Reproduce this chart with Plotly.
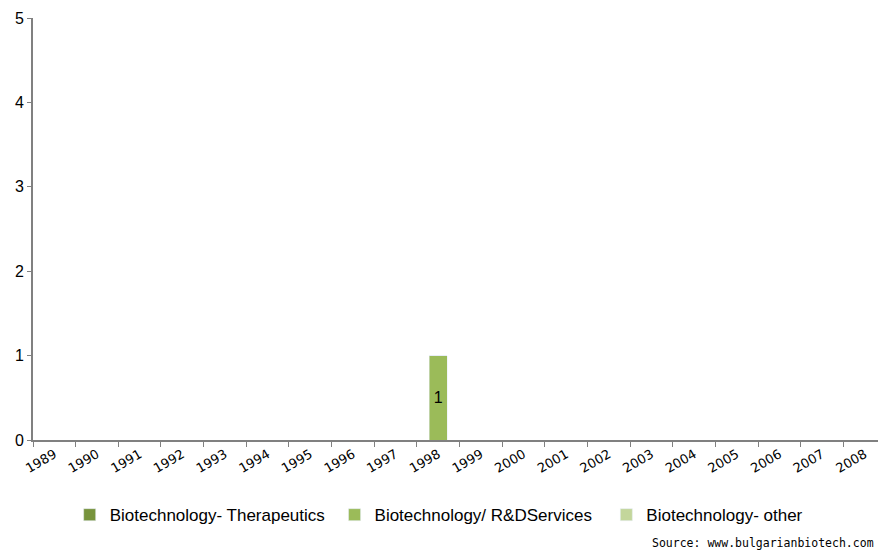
import plotly.graph_objects as go

years = [str(y) for y in range(1989, 2009)]
therapeutics = [0] * 20
rd_services = [0, 0, 0, 0, 0, 0, 0, 0, 0, 1, 0, 0, 0, 0, 0, 0, 0, 0, 0, 0]
other = [0] * 20

pad = "\u00a0"
series = [
    ("Biotechnology- Therapeutics" + pad, therapeutics, "#77933C"),
    ("Biotechnology/ R&DServices" + pad * 2, rd_services, "#9BBB59"),
    ("Biotechnology- other", other, "#C3D69B"),
]

fig = go.Figure()
for name, vals, col in series:
    fig.add_trace(go.Bar(
        x=years, y=vals, name=name, marker_color=col, width=0.43,
        text=[str(v) if v else "" for v in vals], textposition="inside",
        insidetextanchor="middle",
        textfont=dict(color="black", size=16, family="Liberation Sans"),
    ))

fig.update_layout(
    width=886, height=550,
    margin=dict(l=33, r=0, t=18, b=110, autoexpand=False),
    barmode="stack",
    plot_bgcolor="white", paper_bgcolor="white",
    font=dict(family="Liberation Sans", color="black"),
    showlegend=True,
    legend=dict(orientation="h", x=0.043, xanchor="left", y=-0.178, yanchor="middle",
                font=dict(size=17, family="Liberation Sans"), itemwidth=30,
                traceorder="normal"),
    xaxis=dict(type="category", tickson="boundaries", ticks="outside", ticklen=5,
               tickcolor="#808080", showline=True, linecolor="#808080", linewidth=2,
               tickangle=-30, tickfont=dict(size=13, family="DejaVu Sans"),
               showgrid=False, automargin=False),
    yaxis=dict(range=[0, 5], dtick=1, ticks="outside", ticklen=4, tickcolor="#808080",
               showline=True, linecolor="#808080", linewidth=2, showgrid=False,
               zeroline=False, tickfont=dict(size=16), automargin=False),
    annotations=[dict(text="Source: www.bulgarianbiotech.com", xref="paper", yref="paper",
                      x=0.9883, y=-0.244, xanchor="right", yanchor="middle", showarrow=False,
                      font=dict(size=11.5, family="DejaVu Sans Mono"))],
)

fig.write_html("out.html", config={"displayModeBar": False},
               post_script="document.body.style.margin='0';document.body.style.overflow='hidden';")
